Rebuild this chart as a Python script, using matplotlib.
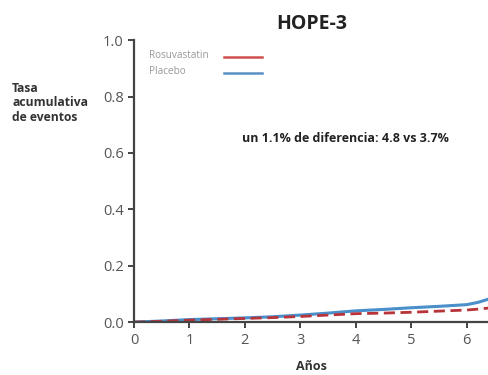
import matplotlib.pyplot as plt

# curvas
years = [0, 0.5, 1, 1.5, 2, 2.5, 3, 3.5, 4, 4.5, 5, 5.5, 6, 6.2, 6.4]
placebo = [0, 0.004, 0.009, 0.012, 0.015, 0.019, 0.025, 0.032, 0.040, 0.045, 0.051, 0.056, 0.062, 0.070, 0.082]
rosuva = [0, 0.003, 0.007, 0.010, 0.013, 0.016, 0.020, 0.025, 0.030, 0.032, 0.035, 0.039, 0.043, 0.046, 0.050]
xticks = [0, 1, 2, 3, 4, 5, 6]
yticks = [0.0, 0.2, 0.4, 0.6, 0.8, 1.0]

plt.rcParams['font.family'] = ['Open Sans', 'DejaVu Sans']
grey = '#555555'

fig = plt.figure(figsize=(4.89, 3.75), dpi=100)
ax = fig.add_axes([0.274, 0.141, 0.726, 0.752])

ax.plot(years, placebo, color='#4a8fc9', lw=2.2, solid_capstyle='butt')
ax.plot(years, rosuva, color='#b7343a', lw=2, ls=(0, (4, 2)))

ax.set_xlim(0, 6.4)
ax.set_ylim(0, 1.0)
ax.set_xticks(xticks)
ax.set_yticks(yticks)
ax.set_yticklabels([f'{v:.1f}' for v in yticks])
ax.spines['top'].set_visible(False)
ax.spines['right'].set_visible(False)
for s in ['left', 'bottom']:
    ax.spines[s].set_color('#444444')
    ax.spines[s].set_linewidth(1.6)
ax.tick_params(colors='#444444', labelcolor=grey, labelsize=10.5, width=1.4, length=4)

ax.set_xlabel('Años', fontsize=9, fontweight='bold', color='#333333', labelpad=9)
fig.text(0.025, 0.782, 'Tasa\nacumulativa\nde eventos', fontsize=8.7, fontweight='bold',
         color='#333333', ha='left', va='top', linespacing=1.15)
fig.text(0.638, 0.935, 'HOPE-3', fontsize=14, fontweight='bold', color='#222222', ha='center', va='center')

# leyenda manual
fig.text(0.305, 0.853, 'Rosuvastatin', fontsize=7.2, color='#999999', va='center')
fig.text(0.305, 0.81, 'Placebo', fontsize=7.2, color='#999999', va='center')
ax.plot([1.62, 2.31], [0.94, 0.94], color='#d0504f', lw=1.8, clip_on=False)
ax.plot([1.62, 2.31], [0.883, 0.883], color='#5a8fc4', lw=1.8, clip_on=False)

ax.text(1.95, 0.64, 'un 1.1% de diferencia: 4.8 vs 3.7%', fontsize=9, fontweight='bold', color='#222222')

fig.savefig('out.png', dpi=100)
